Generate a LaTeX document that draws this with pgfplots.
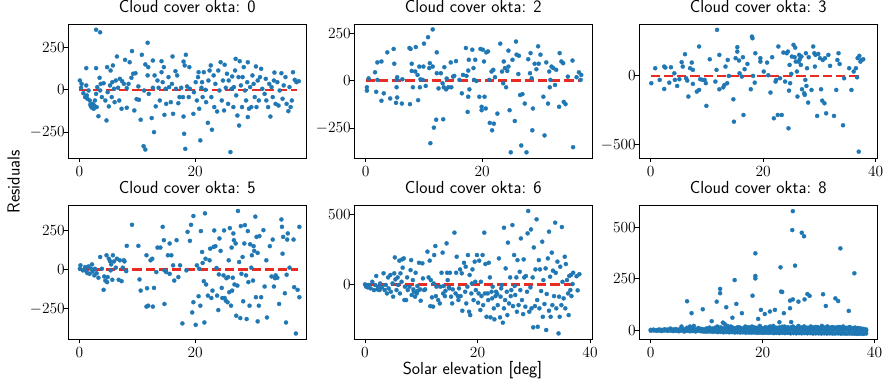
\RequirePackage{fix-cm}
\documentclass[border=0pt]{standalone}
\usepackage{pgfplots}
\pgfplotsset{compat=1.18}
\definecolor{tabblue}{HTML}{1F77B4}
\definecolor{tabred}{RGB}{232,44,36}
\newcommand{\fs}{\fontsize{15.5}{18}\selectfont}
\newcommand{\fl}{\fontsize{17.5}{20}\selectfont}
\pgfplotsset{
 panel/.style={scale only axis, width=238pt, height=133.5pt, anchor=south west,
  axis line style={line width=0.9pt, black}, tick align=outside, major tick length=4pt,
  tick style={black, line width=0.9pt}, tick pos=left, scaled ticks=false,
  ticklabel style={font=\fs},
  yticklabel style={xshift=4pt},
  xticklabel style={inner sep=0pt, yshift=-4.2pt},
  title style={font=\sffamily\fl, inner sep=0pt, anchor=base, at={(0.5,1)}, yshift=6pt},
  clip=true},
 pts/.style={only marks, color=tabblue, mark=*, mark size=2.05pt, mark options={draw=tabblue, fill=tabblue, line width=0.3pt}},
 zl/.style={draw=tabred, line width=2.5pt, dash pattern=on 9.25pt off 4pt, mark=none},
}
\begin{document}
\begin{tikzpicture}
\useasboundingbox (0,0) rectangle (887pt,388pt);
% ---------------- okta 0
\begin{axis}[panel, at={(68.3pt,230pt)}, xmin=-1.9, xmax=39.2, ymin=-403, ymax=386,
 xtick={0,20}, ytick={-250,0,250}, title={Cloud cover okta: 0}]
\addplot[pts] coordinates {
(0.1,55)(0.3,12)(0.7,-20)(1,-43)(1.2,26)(1.3,-33)(1.4,-53)(1.6,-4)(1.8,-63)(1.9,-87)(2,-98)(1.2,128)(0.4,35)
(2.2,-106)(2.3,-83)(2.5,-112)(2.6,-93)(2.7,-63)(2.9,-24)(3,-102)(3.1,16)(3.3,-156)(3.5,71)(3.6,-4)(2.9,128)(2.9,355)(3.6,340)(3.7,35)(3.9,-43)
(4.2,39)(4.5,-63)(4.7,-181)(4.8,134)(4.9,-14)(5.1,-98)(5.3,26)(5.4,114)(5.6,-43)(5.7,45)(5.8,144)(6,6)(6.1,-73)
(6.3,55)(6.5,197)(6.7,12)(6.9,-63)(7,65)(7.3,-112)(7.4,51)(7.7,35)(7.9,177)(8.2,-106)(8.2,10)
(8.5,35)(8.7,163)(9,71)(9.1,229)(9.3,95)(9.5,-122)(9.7,98)(9.9,-55)(10.2,20)
(10.3,-59)(10.6,-177)(10.8,207)(11.1,-333)(11.2,-4)(11.4,-353)(11.4,150)(11.8,278)(11.8,85)(11.9,134)(12,-24)
(12.5,-167)(12.7,12)(12.7,173)(12.9,-250)(13,85)(13.2,-98)(13.5,55)(13.7,12)(13.9,-63)
(14.2,104)(14.2,169)(14.4,45)(14.7,-148)(14.6,134)(14.9,6)(15,-83)(15.4,75)(15.5,16)(15.8,-73)
(16,35)(16.2,-142)(16.1,197)(16.6,110)(16.7,6)(16.9,85)(17.1,-79)(17.3,-43)(17.6,12)(17.9,-43)
(18,-158)(18.2,144)(18,167)(18.4,207)(18.1,-260)(18.3,-349)(18.6,20)(18.9,-43)(19.1,6)(19,134)(19.7,-142)(19.8,-14)
(20.1,45)(20.3,-63)(20.5,75)(20.6,104)(20.7,-112)(20.9,-299)(21.1,12)(21.2,45)(21.3,-43)(21.5,104)(21.8,0)(21.9,-73)
(22.2,-195)(22.3,55)(22.5,114)(22.7,144)(22.8,-43)(22.9,-236)(23.2,85)(23.3,-102)(23.5,35)(23.8,-128)(24,114)
(24.2,-4)(24.4,163)(24.6,-63)(24.8,55)(25,-122)(25.1,148)(25.3,12)(25.5,95)(25.7,-83)(25.8,55)(26.1,-368)(26.3,6)
(26.4,79)(26.6,-102)(26.7,16)(26.9,114)(27,183)(27.1,-33)(27.3,-152)(27.5,75)(27.6,-211)(27.7,169)(27.9,26)
(28.1,-102)(28.2,75)(28.4,134)(28.6,-4)(28.8,-63)(29,45)(29.1,163)(29.1,-161)(29.3,-112)(29.5,16)
(29.7,-102)(29.9,85)(30.1,35)(30.3,-43)(30.5,138)(30.6,-102)(30.8,55)(31,-63)(31.2,75)(31.4,124)(31.6,6)
(32,-24)(32.2,65)(32.3,-63)(32.6,-102)(32.8,35)(33,-158)(33.2,16)(33.4,-43)(33.6,55)(33.7,102)(33.9,-83)
(34.2,45)(34.4,-93)(34.6,-4)(34.9,98)(35.1,-53)(35.3,26)(35.6,75)(35.8,-83)
(36.1,-126)(36.3,16)(36.5,-102)(36.7,-63)(36.9,104)(37.2,59)(37.5,45)(37.9,51)
};
\addplot[zl] coordinates {(0,0)(37.6,0)};
\end{axis}
% ---------------- okta 2
\begin{axis}[panel, at={(354.3pt,230pt)}, xmin=-1.96, xmax=38.9, ymin=-408, ymax=296,
 xtick={0,20}, ytick={-250,0,250}, title={Cloud cover okta: 2}]
\addplot[pts] coordinates {
(0.2,-35)(0.2,-53)(0.5,12)(1.6,44)(1.8,-59)(2,96)(2,4)(2.7,101)(2.7,-106)(3.1,-67)(3.7,149)(4.2,-94)(4.8,167)(4.9,89)
(5.2,-117)(5.3,4)(5.3,-35)(5.4,-89)(5.4,18)(6.2,-121)(6.3,7)(7.5,172)(7.7,167)(7.6,-124)(7.9,89)(7.9,51)(8.1,-35)
(8.5,48)(8.6,177)(8.9,30)(9,-103)(9.2,74)(9.3,-35)(9.4,7)(9.8,4)(9.9,74)(10,195)(10.3,-28)(10.7,229)(10.9,66)(11,92)
(11.1,-330)(11.5,270)(11.5,74)(11.7,-248)(12.1,-206)(12.2,149)(12.2,39)(12.5,-41)(12.9,39)(13.2,-14)(13.3,-204)
(13.4,-35)(13.5,71)(13.8,-46)(13.9,11)(14.2,-35)(14.6,96)(14.7,-35)(15,21)(15.2,25)(15.5,103)(16.1,4)(16.5,-67)
(16.7,30)(17.2,172)(17.3,25)(17.5,-165)(17.6,-85)(17.6,53)(17.7,110)(17.8,-46)(18.3,163)(18.5,66)(18.6,4)(18.8,110)
(19,-2)(19.5,-85)(19.7,167)(19.9,-138)(19.9,-156)(20.1,163)(20.3,101)(20.4,-85)(20.6,-147)(20.7,149)(21,154)(21.2,4)
(21.3,-223)(21.6,48)(21.7,-262)(21.9,57)(22,-227)(22.2,18)(22.6,-174)(23.1,195)(23.4,48)(23.6,-14)(23.7,101)(23.9,66)
(24.1,-35)(24.3,51)(24.5,158)(24.5,74)(24.7,-156)(24.9,-378)(25.2,110)(25.6,-213)(25.8,206)(25.9,137)(26.2,35)(26.3,131)
(26.5,-76)(26.7,-342)(26.9,-71)(27.3,-121)(27.6,-378)(27.9,113)(28.2,39)(28.3,145)(28.5,12)(28.6,-262)(28.7,-147)
(29,89)(29.3,60)(29.6,181)(29.7,89)(30,137)(30.5,-85)(30.7,-289)(31,96)(31.3,-121)(31.5,48)(31.6,-35)(31.7,4)(31.9,74)
(32.2,66)(32.5,-23)(32.7,57)(33.2,-138)(33.3,145)(33.6,101)(33.9,92)(34,-112)(34.3,-124)(34.7,21)(35.5,106)(35.6,-351)
(36.2,18)(36.6,44)(36.9,4)(37,30)
};
\addplot[zl] coordinates {(0,0)(36.8,0)};
\end{axis}
% ---------------- okta 3
\begin{axis}[panel, at={(639.3pt,230pt)}, xmin=-2.03, xmax=40.3, ymin=-597, ymax=374,
 xtick={0,20,40}, ytick={-500,0}, title={Cloud cover okta: 3}]
\addplot[pts] coordinates {
(0.1,-53)(0.8,56)(1.6,-29)(2.4,68)(2.6,61)(2.4,-95)(3.3,-49)(3.6,63)(4.2,19)(4.3,-29)(4.7,-73)(5.1,-24)(5.5,100)(5.7,68)
(6.1,158)(6.3,-17)(6.5,-34)(6.7,-150)(7,56)(7.3,97)(7.5,44)(7.5,-58)(8.2,-114)(8.6,-102)(8.6,214)(8.8,-24)(9.2,-29)
(9.6,-29)(9.8,-53)(9.9,-218)(10.5,121)(11.5,-41)(11.7,44)(11.8,335)(12.2,-97)(12.2,153)(12.9,-83)(13.1,-66)(13.3,68)
(13.6,-53)(13.7,116)(13.9,0)(14.7,-170)(14.8,-333)(15.1,129)(15.4,209)(15.4,177)(15.7,112)(15.8,19)(16.2,-5)(16.4,136)
(16.5,-284)(16.7,49)(17.2,87)(17.8,-97)(18,286)(18.1,274)(18.2,0)(18.5,-49)(18.6,165)(19.5,104)(19.5,129)(20.1,32)
(20.7,97)(20.9,5)(21.3,-121)(21.6,136)(21.9,-308)(22.2,-41)(22.3,-29)(22.6,-284)(22.7,214)(23,-17)(23.3,-284)(23.6,170)
(23.9,-41)(24.2,165)(24.4,177)(24.5,-381)(24.6,-107)(24.7,80)(24.8,-53)(25,15)(25.1,141)(25.4,226)(25.6,136)(25.7,206)
(25.8,104)(26,32)(26.1,-150)(26.3,104)(26.4,153)(26.5,121)(26.7,80)(26.8,141)(26.9,-97)(27.3,-126)(27.4,-138)(27.5,-29)
(27.6,165)(27.7,-73)(27.8,56)(28,-194)(28.1,136)(28.6,-102)(28.9,214)(29.1,165)(29.2,68)(29.3,153)(29.6,-291)(29.8,160)
(30.1,129)(30.3,-97)(30.5,-180)(30.6,116)(30.9,-199)(31,129)(31.2,-272)(31.6,153)(31.9,73)(32.6,-291)(33,-102)(33.2,116)
(33.4,165)(33.6,87)(34.2,-359)(34.4,-17)(35.3,56)(35.7,-102)(36.1,32)(36.5,56)(36.7,-10)(36.8,129)(37,-551)(37.1,146)
(37.3,104)(37.5,116)(37.8,121)
};
\addplot[zl] coordinates {(0,0)(37.7,0)};
\end{axis}
% ---------------- okta 5
\begin{axis}[panel, at={(68.3pt,48.7pt)}, xmin=-1.9, xmax=39.2, ymin=-445, ymax=405,
 xtick={0,20}, ytick={-250,0,250}, title={Cloud cover okta: 5}]
\addplot[pts] coordinates {
(0.1,4)(0.2,26)(0.6,-6)(1,15)(1.2,-11)(1.4,-24)(1.6,19)(1.8,-28)(2,4)(2.2,32)(2.3,-13)(2.6,-38)(2.7,4)(3,-24)(3.3,-53)
(3.6,79)(3.9,4)(4.2,-130)(4.3,-45)(4.5,-71)(4.7,90)(4.8,-81)(4.9,-49)(5.1,68)(5.3,53)(5.4,-6)(5.5,32)(5.7,-66)(5.8,90)
(6,51)(6.3,11)(6.5,68)(6.8,-66)(7,58)(7.3,-75)(7.5,11)(7.7,58)(7.8,51)(8.1,-11)(8.2,150)(9.1,284)(10.2,150)(10.4,-64)
(10.6,-135)(11.6,90)(11.6,-237)(11.7,-120)(11.9,-231)(12.3,58)(12.6,68)(12.7,-237)(12.9,-118)(13.3,-17)(13.5,139)
(14,139)(14.4,271)(14.6,186)(14.7,-6)(14.7,-220)(15,-17)(15.3,90)(15.6,165)(15.6,-28)(15.9,90)(16.2,26)(16.4,-71)
(16.8,186)(17.1,-49)(17.4,26)(17.8,-344)(18.5,-6)(18.7,239)(19.1,182)(19.3,284)(19.5,-274)(19.7,340)(19.7,-209)
(20.1,-353)(20.3,26)(20.6,-171)(20.7,4)(20.9,-231)(21,244)(21.2,111)(21.3,41)(21.5,-75)(21.6,-338)(21.7,357)(21.8,68)
(21.9,-96)(22.2,-167)(22.5,58)(22.6,132)(22.8,-182)(23,-135)(23.2,143)(23.3,248)(23.5,148)(23.7,9)(23.8,-167)(24,-259)
(24.1,-32)(24.2,197)(24.4,118)(24.6,-118)(24.7,-182)(24.9,-38)(25,248)(25.1,-182)(25.3,-199)(25.4,-56)(25.6,-209)
(25.7,-49)(25.8,58)(25.9,-145)(26,263)(26.2,-231)(26.3,139)(26.4,-135)(26.5,-53)(26.6,229)(26.7,186)(26.8,-96)(27,165)
(27.1,-295)(27.3,-103)(27.4,372)(27.6,47)(27.8,-310)(27.9,276)(28,-28)(28.2,79)(28.3,-203)(28.5,165)(28.6,282)(28.8,-38)
(28.9,-316)(29.1,244)(29.2,-81)(29.4,-231)(29.5,160)(29.7,11)(29.8,90)(30,-71)(30.1,148)(30.2,118)(30.4,336)(30.5,-177)
(30.6,207)(30.8,-331)(30.8,105)(31,-231)(31.1,212)(31.4,-177)(31.8,250)(32,-109)(32.3,58)(32.4,-306)(32.9,148)(33.2,-45)
(33.4,190)(33.6,-109)(33.8,-56)(33.9,-38)(34.2,-53)(34.5,-220)(34.9,318)(35,271)(35.1,100)(35.2,207)(35.5,-152)(35.7,-338)
(35.8,-34)(35.9,190)(36,229)(36.3,11)(37,190)(37.1,-113)(37.4,-408)(37.7,-130)(38,271)(38,-177)
};
\addplot[zl] coordinates {(0,0)(37.8,0)};
\end{axis}
% ---------------- okta 6
\begin{axis}[panel, at={(354.3pt,48.7pt)}, xmin=-1.9, xmax=40.4, ymin=-388, ymax=561,
 xtick={0,20,40}, ytick={0,500}, title={Cloud cover okta: 6}]
\addplot[pts] coordinates {
(0,2)(0.2,-14)(0.5,-19)(0.7,-2)(1,-26)(1.3,21)(1.6,-38)(1.8,-2)(2,62)(2.2,-33)(2.3,-14)(2.6,-38)(2.7,9)(3,-19)(3.3,81)
(3.5,-38)(3.7,-2)(3.9,-62)(4.1,52)(4.2,-26)(4.5,69)(4.6,-50)(4.9,9)(5,-85)(5.2,81)(5.3,194)(5.4,38)(5.6,-38)(5.8,52)
(5.9,-2)(6.1,171)(6.2,-62)(6.3,81)(6.5,21)(6.6,180)(6.7,121)(6.9,187)(7,-109)(7.1,-14)(7.3,-109)(7.5,52)(7.6,-38)
(7.9,-14)(8.1,104)(8.2,175)(8.3,-73)(8.5,33)(8.6,-33)(8.7,-50)(8.9,-85)(9,85)(9.2,-62)(9.3,-9)(9.4,-43)(9.6,156)
(9.8,-33)(9.9,-114)(10.2,152)(10.3,45)(10.5,-38)(10.7,-33)(11.1,235)(11.3,52)(11.5,171)(11.6,-152)(11.7,33)(11.9,-90)
(12.1,-156)(12.2,9)(12.3,211)(12.5,275)(12.6,-81)(12.7,-14)(13,-109)(13.3,-133)(13.4,-14)(13.6,85)(13.8,228)(13.9,-62)
(14,-9)(14.2,-81)(14.3,-43)(14.5,294)(14.6,85)(14.7,33)(14.9,-19)(15,-26)(15.1,85)(15.3,-85)(15.5,-133)(15.6,-33)
(15.9,370)(16.1,-62)(16.2,85)(16.3,199)(16.5,-81)(16.6,-109)(16.7,-26)(16.9,109)(17,-81)(17.2,81)(17.3,-185)(17.6,156)
(17.8,-50)(17.9,128)(18,-133)(18.2,-14)(18.3,211)(18.5,-192)(18.6,69)(18.7,-216)(18.9,-62)(19,9)(19.1,109)(19.3,-109)
(19.5,164)(19.6,21)(19.7,-38)(19.9,211)(20.1,-128)(20.2,-62)(20.3,171)(20.5,-180)(20.6,21)(20.7,-81)(20.9,211)(21,-145)
(21.2,370)(21.3,-62)(21.4,147)(21.6,-228)(21.8,-62)(21.9,-109)(22,156)(22.2,52)(22.3,-232)(22.5,-50)(22.6,-97)(22.7,-14)
(22.9,-168)(23,-246)(23.2,-81)(23.3,-50)(23.5,-66)(23.6,-145)(23.8,187)(24,-232)(24.1,-85)(24.2,-26)(24.3,-2)(24.5,-270)
(24.7,-168)(24.7,405)(24.9,-109)(25,116)(25.2,-50)(25.3,-216)(25.4,299)(25.6,-133)(25.8,52)(25.9,-81)(26,-38)(26.2,424)
(26.3,-152)(26.5,211)(26.6,-9)(26.7,-73)(26.9,52)(27,-192)(27.1,175)(27.3,-145)(27.5,92)(27.6,-38)(27.7,329)(27.9,-109)
(28.1,-209)(28.2,180)(28.3,52)(28.5,-156)(28.6,62)(28.8,-50)(28.9,365)(29,524)(29.2,-192)(29.4,-19)(29.5,393)(29.6,-168)
(29.8,52)(29.9,-303)(30,265)(30.2,-152)(30.3,109)(30.5,465)(30.6,-109)(30.7,-299)(30.9,175)(31,-168)(31.1,109)(31.3,-45)
(31.5,306)(31.6,-228)(31.7,33)(31.9,-137)(32.1,116)(32.2,-322)(32.3,-66)(32.5,187)(32.7,-185)(32.7,377)(32.9,57)(33,-228)
(33.2,228)(33.3,-145)(33.4,100)(33.6,-81)(33.8,441)(33.9,85)(34,-168)(34.2,164)(34.4,-346)(34.5,-85)(34.6,-228)(34.7,128)
(34.9,-145)(35,410)(35.1,21)(35.3,-97)(35.5,199)(35.6,-168)(35.7,147)(35.9,33)(36.1,-62)(36.2,-216)(36.3,62)(36.5,-38)
(36.6,69)(36.7,-81)(36.9,5)(37,85)(37.6,60)(38.1,75)(37.8,-40)
};
\addplot[zl] coordinates {(0,0)(37.6,0)};
\end{axis}
% ---------------- okta 8
\begin{axis}[panel, at={(639.3pt,48.7pt)}, xmin=-2.04, xmax=40.5, ymin=-44, ymax=605,
 xtick={0,20,40}, ytick={0,250,500}, title={Cloud cover okta: 8}]
\addplot[pts] coordinates {
(25.4,579)(25.3,487)(27,474)(27.4,457)(33.9,398)(18.7,374)(23.2,306)(25.8,314)(18.7,264)(18.7,252)(15,244)(36.4,277)
(12.4,201)(12.4,180)(23.3,188)(23.5,186)(28,176)(28.4,167)(30.8,175)(18.2,168)(15.3,128)(6.5,141)(11.8,139)(26.4,139)
(25.4,150)(24.9,144)(27.5,150)(33,155)(33.5,142)(31.3,118)(13.5,112)(9.3,102)(19.7,99)(22.2,99)(7.3,83)(16.3,83)
(20.4,79)(21.3,91)(23.8,83)(24.9,107)(35.4,94)(19.2,55)(14.6,61)(10.9,44)(12.9,37)(13.2,31)(25.1,40)(23,39)
(5.5,18)(7,18)(7.7,21)(11.9,18)(13.7,21)(14.3,18)(15.7,15)(16.9,18)(18.1,18)(19.5,21)(21.3,18)(21.9,21)(23.9,18)
(25.4,18)(26.4,21)(27.4,18)(28.6,18)(29.8,15)(30.6,21)(31.6,18)(32.4,15)(33.9,15)(34.4,18)(35.6,15)(37.1,10)
(0,2)(0,-2)(0.5,3)(0.5,-1)(1,1)(1,-3)(1.5,4)(1.5,-2)(2,2)(2,-4)(2.5,5)(2.5,-1)(3,3)(3,-3)(3.5,8)(3.5,-2)(4,4)(4,-4)
(4.5,6)(4.5,-3)(5,3)(5,-5)(5.5,10)(5.5,-2)(6,5)(6,-6)(6.5,12)(6.5,-3)(7,6)(7,-5)(7.5,9)(7.5,-4)(8,4)(8,-6)(8.5,11)
(8.5,-3)(9,7)(9,-5)(9.5,5)(9.5,-7)
(10,9)(10,0)(10,-7)(10.5,13)(10.5,2)(10.5,-6)(11,8)(11,-1)(11,-8)(11.5,12)(11.5,3)(11.5,-7)(12,10)(12,1)(12,-9)
(12.5,14)(12.5,-2)(12.5,-8)(13,9)(13,2)(13,-10)(13.5,13)(13.5,0)(13.5,-9)(14,11)(14,3)(14,-10)(14.5,15)(14.5,-1)(14.5,-9)
(15,10)(15,2)(15,-11)(15.5,14)(15.5,0)(15.5,-10)(16,12)(16,4)(16,-11)(16.5,9)(16.5,-2)(16.5,-10)(17,13)(17,1)(17,-12)
(17.5,15)(17.5,3)(17.5,-11)(18,11)(18,-1)(18,-12)(18.5,14)(18.5,2)(18.5,-11)(19,12)(19,0)(19,-13)(19.5,16)(19.5,4)(19.5,-12)
(20,10)(20,1)(20,-13)(20.5,15)(20.5,-2)(20.5,-12)(21,13)(21,3)(21,-13)(21.5,11)(21.5,0)(21.5,-12)(22,16)(22,2)(22,-14)
(22.5,12)(22.5,-1)(22.5,-13)(23,14)(23,3)(23,-14)(23.5,17)(23.5,0)(23.5,-13)(24,12)(24,2)(24,-14)(24.5,15)(24.5,-1)(24.5,-13)
(25,13)(25,4)(25,-15)(25.5,16)(25.5,1)(25.5,-14)(26,11)(26,-2)(26,-15)(26.5,15)(26.5,3)(26.5,-14)(27,13)(27,0)(27,-15)
(27.5,17)(27.5,2)(27.5,-14)(28,12)(28,-1)(28,-15)(28.5,15)(28.5,3)(28.5,-14)(29,14)(29,0)(29,-16)(29.5,16)(29.5,2)(29.5,-15)
(30,12)(30,-2)(30,-15)(30.5,15)(30.5,1)(30.5,-16)(31,13)(31,3)(31,-15)(31.5,17)(31.5,0)(31.5,-16)(32,12)(32,2)(32,-15)
(32.5,15)(32.5,-1)(32.5,-16)(33,13)(33,3)(33,-16)(33.5,16)(33.5,0)(33.5,-15)(34,11)(34,2)(34,-17)(34.5,14)(34.5,-1)(34.5,-16)
(35,12)(35,3)(35,-17)(35.5,15)(35.5,0)(35.5,-16)(36,10)(36,2)(36,-17)(36.5,13)(36.5,-1)(36.5,-17)(37,11)(37,1)(37,-18)
(37.5,9)(37.5,-2)(37.5,-17)(38,7)(38,0)(38,-18)(38.5,4)(38.5,-3)(38.5,-16)
};
\addplot[zl] coordinates {(0,0)(38.1,0)};
\end{axis}
\node[rotate=90, font=\sffamily\fl] at (13.5pt,206pt) {Residuals};
\node[anchor=base, inner sep=0pt, font=\sffamily\fl] at (472.5pt,13.8pt) {Solar elevation [deg]};
\end{tikzpicture}
\end{document}
